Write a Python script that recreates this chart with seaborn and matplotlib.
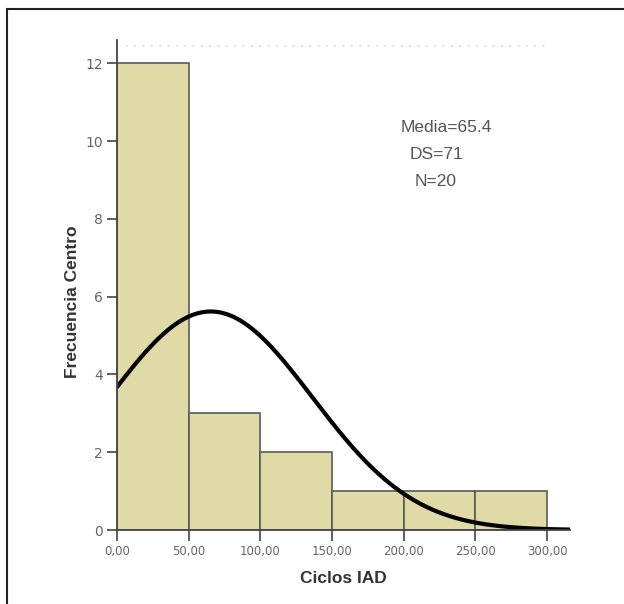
import numpy as np
import pandas as pd
import matplotlib
matplotlib.use("Agg")
import matplotlib.pyplot as plt
import seaborn as sns

# histogram counts
bin_edges = [0, 50, 100, 150, 200, 250, 300]
counts = [12, 3, 2, 1, 1, 1]
tick_labels = ["0,00", "50,00", "100,00", "150,00", "200,00", "250,00", "300,00"]

media = 65.4
ds = 71
n = 20

sns.set_style("white")
plt.rcParams['font.family'] = ['Liberation Sans', 'DejaVu Sans']

centers = [(a + b) / 2 for a, b in zip(bin_edges[:-1], bin_edges[1:])]
df = pd.DataFrame({"ciclos": centers, "freq": counts})

fig = plt.figure(figsize=(6.24, 6.04), dpi=100)
ax = fig.add_axes([117 / 624, 74 / 604, 453 / 624, 490 / 604])

sns.histplot(data=df, x="ciclos", weights="freq", bins=bin_edges, ax=ax,
             color="#dfdaa6", alpha=1, edgecolor="#5a5a5a", linewidth=1.2)

# fitted normal curve (Media / DS / N)
width = bin_edges[1] - bin_edges[0]
xs = np.linspace(0, 316, 300)
ys = n * width * np.exp(-0.5 * ((xs - media) / ds) ** 2) / (ds * np.sqrt(2 * np.pi))
sns.lineplot(x=xs, y=ys, ax=ax, color="black", linewidth=3)

ax.axhline(12.45, xmin=0.02, xmax=0.95, color="#d8d8d8", linestyle=(0, (1, 4)), linewidth=1.2)

ax.set_xlim(0, 316)
ax.set_ylim(0, 12.6)
ax.set_xticks(bin_edges)
ax.set_xticklabels(tick_labels)
ax.set_yticks([0, 2, 4, 6, 8, 10, 12])
ax.tick_params(axis="both", direction="out", length=7, width=1.2, color="#444444",
               labelcolor="#666666", bottom=True, left=True, pad=3)
ax.tick_params(axis="x", length=8)
for lab in ax.get_xticklabels():
    lab.set_family("DejaVu Sans")
    lab.set_fontsize(8.5)
for lab in ax.get_yticklabels():
    lab.set_family("DejaVu Sans")
    lab.set_fontsize(10)

for s in ["top", "right"]:
    ax.spines[s].set_visible(False)
for s in ["left", "bottom"]:
    ax.spines[s].set_color("#444444")
    ax.spines[s].set_linewidth(1.3)

ax.set_xlabel("Ciclos IAD", fontsize=12.5, fontweight="bold", color="#333333")
ax.set_ylabel("Frecuencia Centro", fontsize=12.5, fontweight="bold", color="#333333")
ax.xaxis.set_label_coords(0.5, -0.098)
ax.yaxis.set_label_coords(-0.099, 0.465)
ax.yaxis.label.set_va("center")
ax.xaxis.label.set_va("center")

ax.text(0.625, 0.822, "Media=65.4", transform=ax.transAxes, fontsize=12.5,
        color="#555555", va="center")
ax.text(0.647, 0.767, f"DS={ds}", transform=ax.transAxes, fontsize=12.5,
        color="#555555", va="center")
ax.text(0.658, 0.712, f"N={n}", transform=ax.transAxes, fontsize=12.5,
        color="#555555", va="center")

# outer frame of the figure
fig.add_artist(plt.Rectangle((7 / 624, -0.1), 1.2, (604 - 9) / 604 + 0.1,
                             transform=fig.transFigure, fill=False,
                             edgecolor="#222222", linewidth=1.5))

fig.savefig("out.png", dpi=100)
